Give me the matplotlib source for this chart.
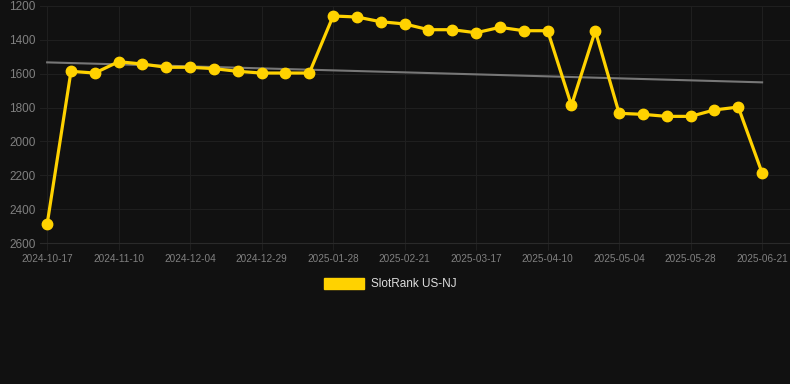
import numpy as np
import matplotlib
matplotlib.use("Agg")
import matplotlib.pyplot as plt
from matplotlib.patches import Patch

plt.rcParams["font.family"] = ["Liberation Sans", "DejaVu Sans"]

dates = [
    "2024-10-17", "2024-10-25", "2024-11-02", "2024-11-10", "2024-11-18", "2024-11-26",
    "2024-12-04", "2024-12-12", "2024-12-20", "2024-12-29", "2025-01-08", "2025-01-18",
    "2025-01-28", "2025-02-05", "2025-02-13", "2025-02-21", "2025-03-01", "2025-03-09",
    "2025-03-17", "2025-03-25", "2025-04-02", "2025-04-10", "2025-04-18", "2025-04-26",
    "2025-05-04", "2025-05-12", "2025-05-20", "2025-05-28", "2025-06-05", "2025-06-13",
    "2025-06-21",
]
rank = [
    2488, 1586, 1596, 1529, 1543, 1562, 1562, 1570, 1586, 1596, 1596, 1596,
    1259, 1265, 1293, 1306, 1340, 1340, 1358, 1326, 1346, 1346, 1787, 1346,
    1834, 1840, 1852, 1852, 1814, 1797, 2186,
]
trend_start = 1533
trend_end = 1651
y_ticks = [1200, 1400, 1600, 1800, 2000, 2200, 2400, 2600]

bg = "#111111"
gold = "#FFD200"
grid_c = "#1f1f1f"

fig = plt.figure(figsize=(7.9, 3.84), dpi=100, facecolor=bg)
ax = fig.add_axes([40 / 790, 141 / 384, 750 / 790, 237 / 384])
ax.set_facecolor(bg)

x = np.arange(len(dates))
ax.plot([x[0], x[-1]], [trend_start, trend_end], color="#777777", lw=1.5, zorder=2)
ax.plot(x, rank, color=gold, lw=2.3, marker="o", markersize=7.5,
        markerfacecolor=gold, markeredgecolor=gold, zorder=3)

ax.set_xlim(-0.3, 31.17)
ax.set_ylim(2600, 1200)
ax.set_yticks(y_ticks)
ax.set_yticklabels([str(v) for v in y_ticks])
ax.set_xticks(x[::3])
ax.set_xticklabels(dates[::3])

ax.grid(True, color=grid_c, lw=0.8)
for s in ax.spines.values():
    s.set_visible(False)
ax.spines["bottom"].set_visible(True)
ax.spines["bottom"].set_color("#2a2a2a")
ax.spines["bottom"].set_linewidth(0.8)
ax.tick_params(axis="y", colors="#808080", labelsize=8.5, length=0, pad=3)
ax.tick_params(axis="x", colors=grid_c, labelcolor="#808080", labelsize=7.2,
               length=5, width=0.8, pad=3)

handle = Patch(facecolor=gold, edgecolor=gold)
fig.legend([handle], ["SlotRank US-NJ"], loc="center", bbox_to_anchor=(0.494, 0.26),
           frameon=False, fontsize=8.5, labelcolor="#dddddd",
           handlelength=3.4, handleheight=1.0, handletextpad=0.6)

fig.savefig("out.png", dpi=100, facecolor=bg)
